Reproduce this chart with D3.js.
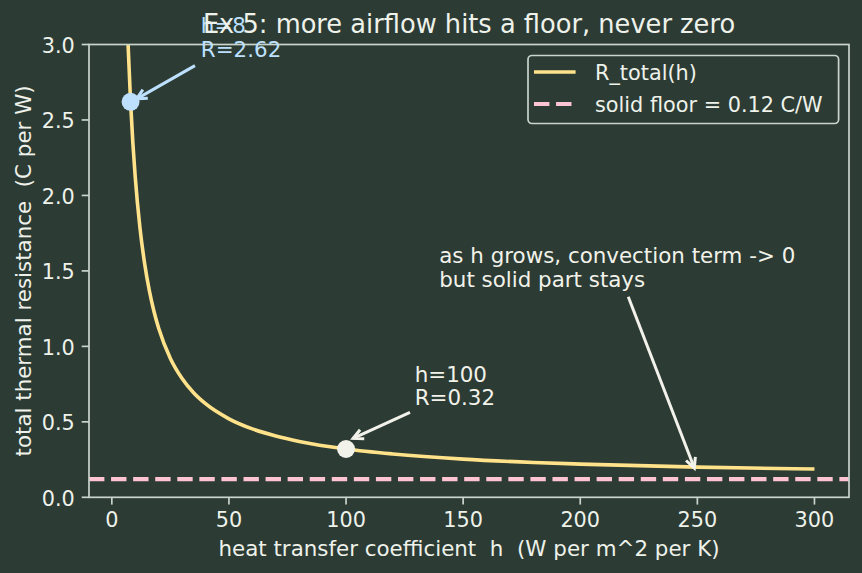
<!DOCTYPE html>
<html>
<head>
<meta charset="utf-8">
<script src="https://cdn.jsdelivr.net/npm/d3@7"></script>
<style>
  html, body { margin: 0; padding: 0; background: #2c3b34; }
  svg { display: block; font-family: "DejaVu Sans", sans-serif; }
</style>
</head>
<body>
<script>
// values
const hValues = [5, 6, 7, 8, 9, 10, 12, 14, 16, 18, 20, 25, 30, 35, 40, 50, 60, 70, 80, 100, 120, 150, 180, 200, 250, 300]
const rValues = [4.12, 3.453, 2.977, 2.62, 2.342, 2.12, 1.787, 1.549, 1.37, 1.231, 1.12, 0.92, 0.787, 0.691, 0.62, 0.52, 0.453, 0.406, 0.37, 0.32, 0.287, 0.253, 0.231, 0.22, 0.2, 0.187]
const solidFloor = 0.12
const xTicks = [0, 50, 100, 150, 200, 250, 300]
const yTicks = [0, 0.5, 1.0, 1.5, 2.0, 2.5, 3.0]
const legendLabels = ['R_total(h)', 'solid floor = 0.12 C/W']

// annotations: marked point, text anchor (first baseline), arrow tail, arrow tip
const notes = [
  {pt: [8, 2.62], lines: ['h=8', 'R=2.62'], text: [38, 3.074], from: [35.5, 2.86], to: [10.6, 2.64], color: '#bde0fe', marker: true},
  {pt: [100, 0.32], lines: ['h=100', 'R=0.32'], text: [129.3, 0.766], from: [127.3, 0.563], to: [103, 0.39], color: '#f2f2ea', marker: true},
  {pt: [250, 0.2], lines: ['as h grows, convection term -> 0', 'but solid part stays'], text: [139.8, 1.55], from: [220.5, 1.329], to: [248.7, 0.194], color: '#f2f2ea', marker: false}
]

const W = 862, H = 573
const bg = '#2c3b34', fg = '#eef2ea', spine = '#c8d4cc'
const curveColor = '#ffe28a', floorColor = '#ffc4d2'
const fs = 20.8, fsText = 21.4, fsTitle = 25.7

const pLeft = 89, pRight = 849, pTop = 44.5, pBottom = 497.3

const x = d3.scaleLinear().domain([-9.75, 314.75]).range([pLeft, pRight])
const y = d3.scaleLinear().domain([0, 3]).range([pBottom, pTop])

const svg = d3.select('body').append('svg')
    .attr('width', W)
    .attr('height', H)

svg.append('rect').attr('width', W).attr('height', H).attr('fill', bg)

svg.append('clipPath').attr('id', 'plot')
  .append('rect')
    .attr('x', pLeft).attr('y', pTop)
    .attr('width', pRight - pLeft).attr('height', pBottom - pTop)

const plot = svg.append('g').attr('clip-path', 'url(#plot)')

// solid floor
plot.append('line')
    .attr('x1', pLeft).attr('x2', pRight)
    .attr('y1', y(solidFloor)).attr('y2', y(solidFloor))
    .attr('stroke', floorColor)
    .attr('stroke-width', 4.17)
    .attr('stroke-dasharray', '15.4,6.67')

// curve
const pts = hValues.map((h, i) => [h, rValues[i]])
plot.append('path')
    .datum(pts)
    .attr('d', d3.line().x(d => x(d[0])).y(d => y(d[1])).curve(d3.curveMonotoneX))
    .attr('fill', 'none')
    .attr('stroke', curveColor)
    .attr('stroke-width', 3.6)

// markers
notes.filter(n => n.marker).forEach(n => {
    plot.append('circle')
        .attr('cx', x(n.pt[0])).attr('cy', y(n.pt[1]))
        .attr('r', 9)
        .attr('fill', n.color)
})

// spines
const ax = svg.append('g')
ax.append('rect')
    .attr('x', pLeft).attr('y', pTop)
    .attr('width', pRight - pLeft).attr('height', pBottom - pTop)
    .attr('fill', 'none')
    .attr('stroke', spine)
    .attr('stroke-width', 1.7)

// x ticks
xTicks.forEach(t => {
    ax.append('line')
        .attr('x1', x(t)).attr('x2', x(t))
        .attr('y1', pBottom).attr('y2', pBottom + 7.3)
        .attr('stroke', spine).attr('stroke-width', 1.7)
    ax.append('text')
        .attr('x', x(t)).attr('y', pBottom + 29.4)
        .attr('text-anchor', 'middle')
        .attr('fill', fg).attr('font-size', fs)
        .text(t)
})

// y ticks
yTicks.forEach(t => {
    ax.append('line')
        .attr('x1', pLeft - 7.3).attr('x2', pLeft)
        .attr('y1', y(t)).attr('y2', y(t))
        .attr('stroke', spine).attr('stroke-width', 1.7)
    ax.append('text')
        .attr('x', pLeft - 14.2).attr('y', y(t) + 8.2)
        .attr('text-anchor', 'end')
        .attr('fill', fg).attr('font-size', fs)
        .text(d3.format('.1f')(t))
})

// axis labels
svg.append('text')
    .attr('x', (pLeft + pRight) / 2).attr('y', 555.5)
    .attr('text-anchor', 'middle')
    .attr('fill', fg).attr('font-size', fsText)
    .style('white-space', 'pre')
    .text('heat transfer coefficient  h  (W per m^2 per K)')

svg.append('text')
    .attr('transform', `translate(30.5,${(pTop + pBottom) / 2}) rotate(-90)`)
    .attr('text-anchor', 'middle')
    .attr('fill', fg).attr('font-size', fsText)
    .style('white-space', 'pre')
    .text('total thermal resistance  (C per W)')

// annotations
const arrowHead = (g, from, to, color) => {
    const ang = Math.atan2(to[1] - from[1], to[0] - from[0])
    const hl = 10, hw = 5
    const bx = to[0] - hl * Math.cos(ang), by = to[1] - hl * Math.sin(ang)
    const px = -Math.sin(ang) * hw, py = Math.cos(ang) * hw
    g.append('path')
        .attr('d', `M${bx + px},${by + py}L${to[0]},${to[1]}L${bx - px},${by - py}`)
        .attr('fill', 'none')
        .attr('stroke', color)
        .attr('stroke-width', 3)
}

notes.forEach(n => {
    const g = svg.append('g')
    const a = [x(n.from[0]), y(n.from[1])], b = [x(n.to[0]), y(n.to[1])]
    g.append('line')
        .attr('x1', a[0]).attr('y1', a[1])
        .attr('x2', b[0]).attr('y2', b[1])
        .attr('stroke', n.color).attr('stroke-width', 3)
    arrowHead(g, a, b, n.color)
    const t = g.append('text')
        .attr('fill', n.color).attr('font-size', fsText)
    n.lines.forEach((l, i) => {
        t.append('tspan')
            .attr('x', x(n.text[0]))
            .attr('y', y(n.text[1]) + i * 23.8)
            .text(l)
    })
})

// title
svg.append('text')
    .attr('x', (pLeft + pRight) / 2).attr('y', 32.5)
    .attr('text-anchor', 'middle')
    .attr('fill', fg).attr('font-size', fsTitle)
    .text('Ex 5: more airflow hits a floor, never zero')

// legend
const lg = svg.append('g')
const lw = 310.6, lh = 68
const lx = pRight - 10.4 - lw, ly = pTop + 11
lg.append('rect')
    .attr('x', lx).attr('y', ly)
    .attr('width', lw).attr('height', lh)
    .attr('rx', 4)
    .attr('fill', bg)
    .attr('stroke', spine)
    .attr('stroke-width', 1.7)

const rowY = [ly + 16.5, ly + 48.5]
lg.append('line')
    .attr('x1', lx + 6).attr('x2', lx + 47.6)
    .attr('y1', rowY[0]).attr('y2', rowY[0])
    .attr('stroke', curveColor).attr('stroke-width', 3.6)
lg.append('line')
    .attr('x1', lx + 6).attr('x2', lx + 47.6)
    .attr('y1', rowY[1]).attr('y2', rowY[1])
    .attr('stroke', floorColor).attr('stroke-width', 4.17)
    .attr('stroke-dasharray', '15.4,6.67')
legendLabels.forEach((l, i) => {
    lg.append('text')
        .attr('x', lx + 67).attr('y', rowY[i] + 8.3)
        .attr('fill', fg).attr('font-size', fs)
        .text(l)
})
</script>
</body>
</html>
